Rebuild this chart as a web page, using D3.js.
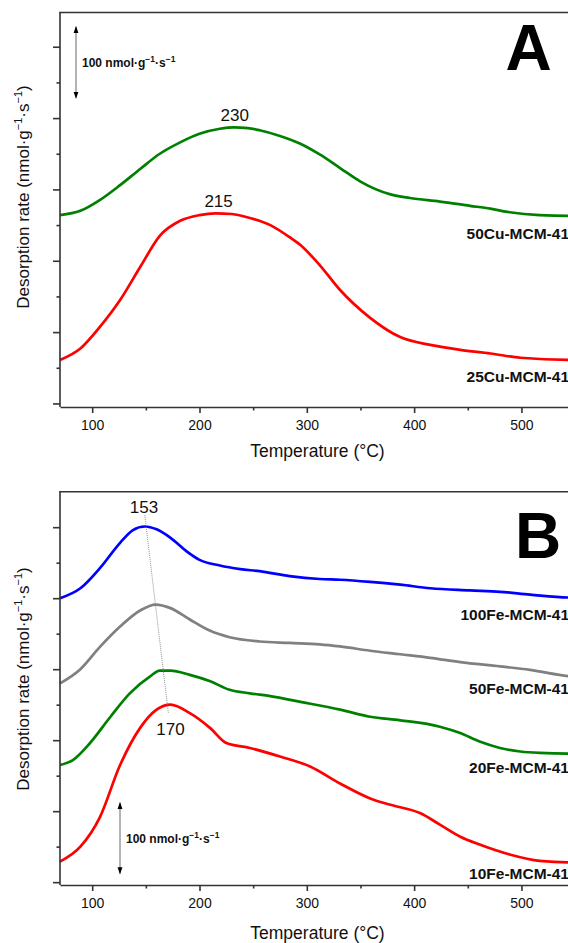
<!DOCTYPE html>
<html><head><meta charset="utf-8">
<script src="https://cdn.jsdelivr.net/npm/d3@7"></script>
<style>
html,body{margin:0;padding:0;background:#fff;}
svg{display:block;font-family:"Liberation Sans",Arial,sans-serif;}
</style></head>
<body>
<svg id="chart" width="568" height="943"></svg>
<script>
// ---------- data ----------
const xTicks = [100, 200, 300, 400, 500];
const xMinorTicks = [150, 250, 350, 450, 550];
const yTicks = [0, 100, 200, 300, 400, 500];
const yMinorTicks = [50, 150, 250, 350, 450];

// Panel A
const tempA50Cu = [70, 89, 107, 126, 145, 163, 182, 200, 219, 232, 245, 256, 275, 294, 312, 331, 350, 378, 396, 424, 452, 471, 489, 517, 544, 550];
const rateA50Cu = [264, 270, 285, 306, 329, 350, 366, 378, 385, 387, 386, 383, 375, 364, 349, 330, 311, 293, 288, 283, 277, 273, 268, 264, 263, 263];
const tempA25Cu = [70, 89, 107, 126, 145, 163, 182, 200, 215, 230, 247, 266, 284, 294, 312, 331, 359, 387, 415, 443, 471, 499, 544, 550];
const rateA25Cu = [61, 77, 107, 145, 192, 235, 256, 264, 266.5, 265.5, 260, 250, 233, 222, 194, 159, 120, 93, 82, 75, 70, 64, 61, 61];

// Panel B
const tempB100Fe = [70, 89, 107, 126, 138, 149, 160, 173, 188, 200, 219, 238, 256, 284, 312, 331, 359, 387, 415, 452, 480, 508, 544, 550];
const rateB100Fe = [400, 414, 442, 478, 496, 501, 497, 485, 466, 454, 446, 441, 438, 431, 427, 426, 423, 419, 414, 411, 409, 405, 401, 401];
const tempB50Fe = [70, 89, 107, 126, 145, 159, 173, 191, 210, 228, 256, 284, 312, 331, 359, 387, 415, 443, 480, 508, 544, 550];
const rateB50Fe = [280, 300, 331, 360, 383, 391, 386, 370, 354, 345, 339, 337, 335, 332, 326, 321, 316, 310, 304, 299, 290, 289];
const tempB20Fe = [70, 82, 98, 117, 135, 154, 163, 173, 191, 210, 228, 247, 266, 294, 331, 359, 387, 424, 443, 461, 480, 499, 517, 544, 550];
const rateB20Fe = [165, 172, 196, 233, 266, 290, 298, 298, 292, 283, 271, 266, 262, 254, 243, 233, 228, 219, 210, 198, 189, 184, 182, 181, 181];
const tempB10Fe = [70, 89, 107, 126, 145, 160, 173, 191, 210, 225, 247, 275, 303, 331, 359, 378, 406, 424, 443, 461, 489, 517, 544, 550];
const rateB10Fe = [29, 50, 91, 165, 218, 243, 250, 238, 217, 196, 189, 177, 163, 139, 118, 109, 97, 81, 64, 53, 39, 30, 28, 28];

const seriesA = [
  {name: "50Cu-MCM-41", temp: tempA50Cu, rate: rateA50Cu, color: "#008000", labelY: 239},
  {name: "25Cu-MCM-41", temp: tempA25Cu, rate: rateA25Cu, color: "#ff0000", labelY: 382}
];
const seriesB = [
  {name: "100Fe-MCM-41", temp: tempB100Fe, rate: rateB100Fe, color: "#0000ff", labelY: 620},
  {name: "50Fe-MCM-41", temp: tempB50Fe, rate: rateB50Fe, color: "#808080", labelY: 694},
  {name: "20Fe-MCM-41", temp: tempB20Fe, rate: rateB20Fe, color: "#008000", labelY: 773},
  {name: "10Fe-MCM-41", temp: tempB10Fe, rate: rateB10Fe, color: "#ff0000", labelY: 879}
];
const peaksA = [{t: 230, v: 387, text: "230"}, {t: 215, v: 266.5, text: "215"}];
const peaksB = [{t: 153, v: 501, text: "153"}, {t: 170, v: 250, text: "170"}];

// ---------- drawing ----------
const svg = d3.select("#chart");
const axisColor = "#333";

svg.append("defs").append("marker")
  .attr("id", "arr").attr("viewBox", "0 0 10 10").attr("refX", 9).attr("refY", 5)
  .attr("markerWidth", 7).attr("markerHeight", 7).attr("orient", "auto-start-reverse")
  .attr("markerUnits", "userSpaceOnUse")
  .append("path").attr("d", "M0,1.5 L10,5 L0,8.5 Z").attr("fill", "#000");

function panel(cfg) {
  const g = svg.append("g");
  const x = d3.scaleLinear().domain([70, 550]).range([60, 575.1]);
  const y = d3.scaleLinear().domain(cfg.yDomain).range([cfg.bottom, cfg.top]);

  const line = d3.line().curve(d3.curveMonotoneX);
  cfg.series.forEach(s => {
    const pts = s.temp.map((t, i) => [x(t), y(s.rate[i])]);
    g.append("path").attr("d", line(pts)).attr("fill", "none")
      .attr("stroke", s.color).attr("stroke-width", 2.7).attr("stroke-linejoin", "round");
    g.append("text").attr("x", 569).attr("y", s.labelY).attr("text-anchor", "end")
      .attr("font-weight", "bold").attr("font-size", 15.5).attr("fill", "#111").text(s.name);
  });

  const xa = g.append("g").attr("transform", `translate(0,${cfg.bottom})`)
    .call(d3.axisBottom(x).tickValues(xTicks).tickSize(6).tickSizeOuter(0).tickPadding(7.5));
  xa.selectAll("text").attr("font-size", 14).attr("fill", "#111").attr("font-family", null);
  g.append("g").attr("transform", `translate(0,${cfg.bottom})`)
    .call(d3.axisBottom(x).tickValues(xMinorTicks).tickSize(3.5).tickFormat(""))
    .select(".domain").remove();
  const ya = g.append("g").attr("transform", "translate(60,0)")
    .call(d3.axisLeft(y).tickValues(yTicks).tickSize(7).tickSizeOuter(0).tickFormat(""));
  g.append("g").attr("transform", "translate(60,0)")
    .call(d3.axisLeft(y).tickValues(yMinorTicks).tickSize(3.5).tickFormat(""))
    .select(".domain").remove();
  g.selectAll(".domain, .tick line").attr("stroke", axisColor).attr("stroke-width", 1.6);
  ya.select(".domain").attr("d", `M0,${cfg.top}V${cfg.bottom}`);
  g.append("line").attr("x1", 59.2).attr("x2", 568).attr("y1", cfg.top).attr("y2", cfg.top)
    .attr("stroke", axisColor).attr("stroke-width", 1.6);

  g.append("text").attr("x", 317.5).attr("y", cfg.xTitleY).attr("text-anchor", "middle")
    .attr("font-size", 17.5).attr("fill", "#111").text("Temperature (°C)");
  const yt = g.append("text").attr("transform", `translate(29,${cfg.yTitleC}) rotate(-90)`)
    .attr("text-anchor", "middle").attr("font-size", 17).attr("fill", "#111");
  yt.append("tspan").text("Desorption rate (nmol·g");
  yt.append("tspan").attr("font-size", 11).attr("dy", -7).text("−1");
  yt.append("tspan").attr("dy", 7).text("·s");
  yt.append("tspan").attr("font-size", 11).attr("dy", -7).text("−1");
  yt.append("tspan").attr("dy", 7).text(")");

  g.append("text").attr("x", cfg.letterX).attr("y", cfg.letterY).attr("text-anchor", "middle")
    .attr("font-weight", "bold").attr("font-size", 64).attr("fill", "#000").text(cfg.letter);

  const sb = cfg.scaleBar;
  g.append("line").attr("x1", sb.x).attr("x2", sb.x).attr("y1", y(sb.v0)).attr("y2", y(sb.v0 + 100))
    .attr("stroke", "#666").attr("stroke-width", 1)
    .attr("marker-start", "url(#arr)").attr("marker-end", "url(#arr)");
  const st = g.append("text").attr("x", sb.x + 6).attr("y", (y(sb.v0) + y(sb.v0 + 100)) / 2 + 4.5)
    .attr("font-weight", "bold").attr("font-size", 12).attr("fill", "#111");
  st.append("tspan").text("100 nmol·g");
  st.append("tspan").attr("font-size", 8.5).attr("dy", -5).text("−1");
  st.append("tspan").attr("dy", 5).text("·s");
  st.append("tspan").attr("font-size", 8.5).attr("dy", -5).text("−1");

  return {g, x, y};
}

const A = panel({
  top: 12.5, bottom: 407, yDomain: [-5, 548], series: seriesA,
  xTitleY: 457, yTitleC: 197, letter: "A", letterX: 528.5, letterY: 70,
  scaleBar: {x: 76, v0: 428}
});
peaksA.forEach(p => {
  A.g.append("text").attr("x", A.x(p.t) + 3).attr("y", A.y(p.v) - 6).attr("text-anchor", "middle")
    .attr("font-size", 17).attr("fill", "#111").text(p.text);
});

const B = panel({
  top: 491.7, bottom: 885, yDomain: [-4, 550], series: seriesB,
  xTitleY: 939, yTitleC: 679, letter: "B", letterX: 538, letterY: 558,
  scaleBar: {x: 120, v0: 12}
});
B.g.append("line")
  .attr("x1", B.x(149)).attr("y1", B.y(517)).attr("x2", B.x(171)).attr("y2", B.y(238))
  .attr("stroke", "#777").attr("stroke-width", 0.8).attr("stroke-dasharray", "1,1");
B.g.append("text").attr("x", 144).attr("y", 513).attr("text-anchor", "middle")
  .attr("font-size", 17).attr("fill", "#111").text(peaksB[0].text);
B.g.append("text").attr("x", 170.5).attr("y", 735).attr("text-anchor", "middle")
  .attr("font-size", 17).attr("fill", "#111").text(peaksB[1].text);
</script>
</body></html>
